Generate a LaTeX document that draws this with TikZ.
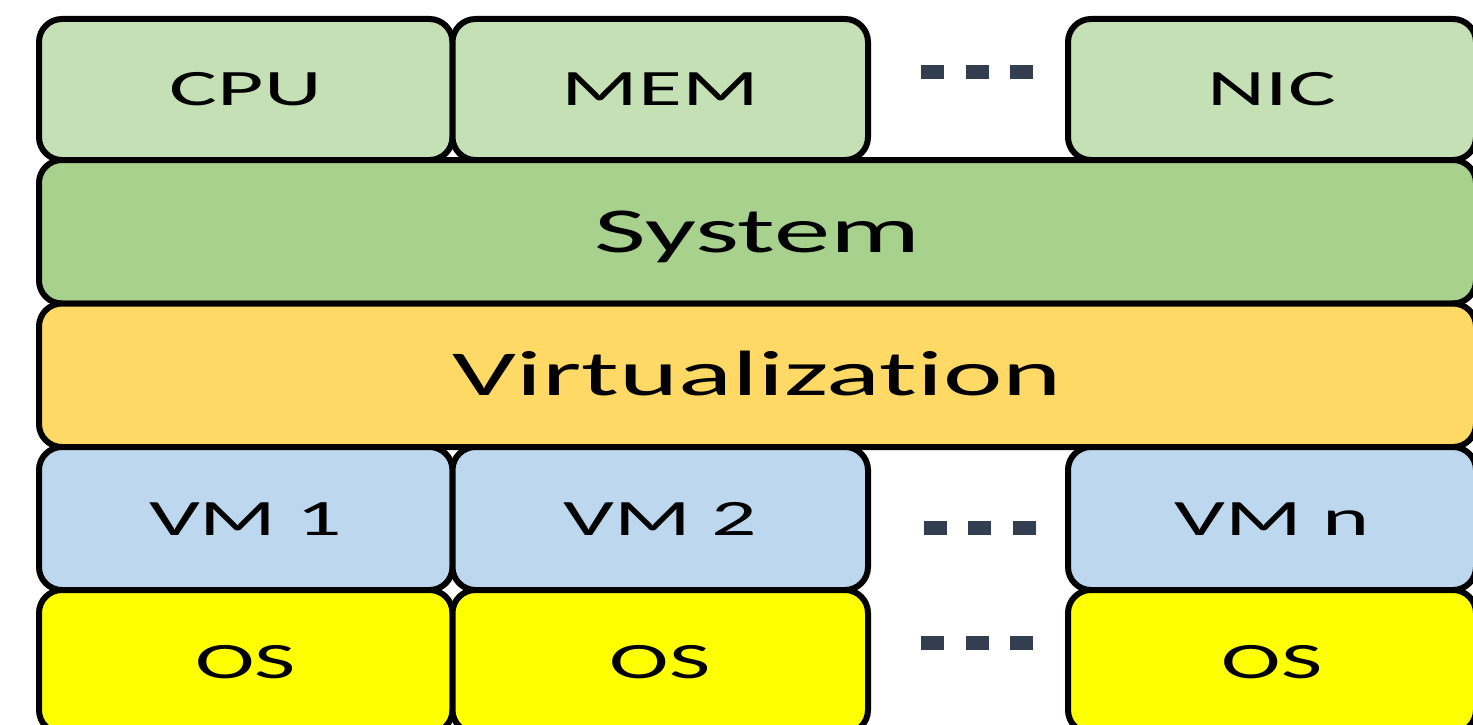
\documentclass[tikz,border=0pt]{standalone}
\usepackage{fontspec}
\setmainfont{Carlito}[FakeStretch=1.76, Ligatures={NoCommon,NoRare}, RawFeature={-liga;-clig}]
\definecolor{hwc}{HTML}{C5E0B4}
\definecolor{sysc}{HTML}{A9D18E}
\definecolor{virtc}{HTML}{FFD966}
\definecolor{vmc}{HTML}{BDD7EE}
\definecolor{osc}{HTML}{FFFF00}
\definecolor{dotc}{HTML}{333F50}
\begin{document}
\begin{tikzpicture}[x=1pt,y=-1pt,
  box/.style={draw=black, line width=6pt, rounded corners=23pt, inner sep=0pt, outer sep=0pt},
  small/.style={box, font=\fontsize{51}{60}\selectfont, text height=33pt, text depth=0pt},
  big/.style={box, font=\fontsize{64}{76}\selectfont, text height=41pt, text depth=0pt},
  colA/.style={minimum width=413.5pt},
  colB/.style={minimum width=415.5pt},
  colC/.style={minimum width=408pt},
  full/.style={minimum width=1437pt},
  dotsq/.style={fill=dotc, minimum width=23pt, minimum height=14pt, inner sep=0pt, outer sep=0pt}]
\path[use as bounding box] (0,0) rectangle (1473,725);
\clip (0,0) rectangle (1473,725);
\fill[white] (0,0) rectangle (1473,725);
% row 1: hardware
\node[small, colA, fill=hwc, minimum height=141pt] (cpu) at (245.75,89.5) {CPU};
\node[small, colB, fill=hwc, minimum height=141pt] (mem) at (660.25,89.5) {MEM};
\node[small, colC, fill=hwc, minimum height=141pt] (nic) at (1272,89.5) {NIC};
% row 2: system
\node[big, full, fill=sysc, minimum height=143.5pt] (sys) at (757.5,231.75) {System};
% row 3: virtualization
\node[big, full, fill=virtc, minimum height=143.5pt] (virt) at (757.5,375.25) {Virtualization};
% row 4: VMs
\node[small, colA, fill=vmc, minimum height=143pt] (vm1) at (245.75,518.5) {VM 1};
\node[small, colB, fill=vmc, minimum height=143pt] (vm2) at (660.25,518.5) {VM 2};
\node[small, colC, fill=vmc, minimum height=143pt] (vmn) at (1272,518.5) {VM n};
% row 5: OS
\node[small, colA, fill=osc, minimum height=143pt] (os1) at (245.75,661.5) {OS};
\node[small, colB, fill=osc, minimum height=143pt] (os2) at (660.25,661.5) {OS};
\node[small, colC, fill=osc, minimum height=143pt] (osn) at (1272,661.5) {OS};
% ellipsis dots
\node[dotsq] (d1a) at (932.5,72) {};
\node[dotsq] (d1b) at (977.5,72) {};
\node[dotsq] (d1c) at (1021.5,72) {};
\node[dotsq] (d4a) at (935,527.5) {};
\node[dotsq] (d4b) at (979.5,527.5) {};
\node[dotsq] (d4c) at (1024,527.5) {};
\node[dotsq] (d5a) at (932.5,643) {};
\node[dotsq] (d5b) at (977.5,643) {};
\node[dotsq] (d5c) at (1021.5,643) {};
\end{tikzpicture}
\end{document}
